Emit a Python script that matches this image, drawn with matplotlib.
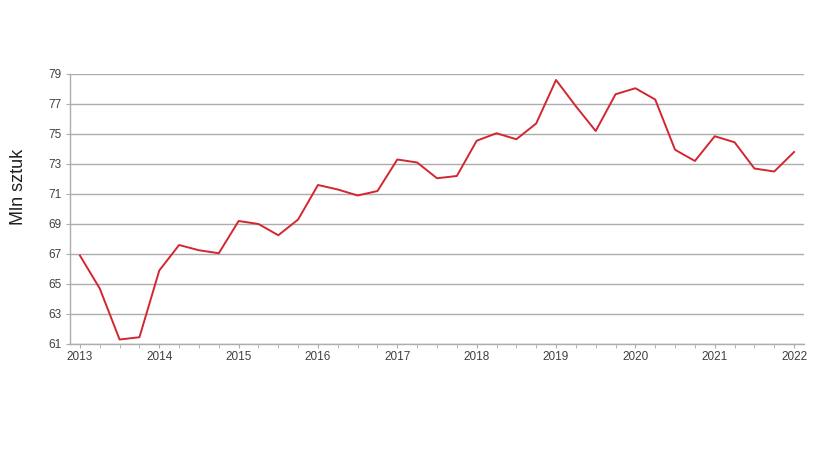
import matplotlib.pyplot as plt
from matplotlib.ticker import MultipleLocator

plt.rcParams['font.family'] = ['Liberation Sans', 'DejaVu Sans']

# kwartalne dane, 2013 Q1 - 2022 Q1
years = [2013, 2014, 2015, 2016, 2017, 2018, 2019, 2020, 2021, 2022]
values = [
    66.9, 64.7, 61.3, 61.45,
    65.9, 67.6, 67.25, 67.05,
    69.2, 69.0, 68.25, 69.3,
    71.6, 71.3, 70.9, 71.2,
    73.3, 73.1, 72.05, 72.2,
    74.55, 75.05, 74.65, 75.7,
    78.6, 76.85, 75.2, 77.65,
    78.05, 77.3, 73.95, 73.2,
    74.85, 74.45, 72.7, 72.5,
    73.8,
]
y_ticks = [61, 63, 65, 67, 69, 71, 73, 75, 77, 79]

grid_col = '#adadad'
txt_col = '#404040'

fig = plt.figure(figsize=(8.2, 4.62), dpi=100)
ax = fig.add_axes([70 / 820, 1 - 344 / 462, (804 - 70) / 820, (344 - 74) / 462])

x = list(range(len(values)))
ax.plot(x, values, color='#d22630', linewidth=1.4, zorder=3)

ax.set_xlim(-0.5, len(values) - 0.5)
ax.set_ylim(61, 79)
ax.set_yticks(y_ticks)
ax.set_xticks([4 * i for i in range(len(years))])
ax.set_xticklabels([str(y) for y in years])
ax.xaxis.set_minor_locator(MultipleLocator(1))

ax.grid(axis='y', color=grid_col, linewidth=1)
ax.set_axisbelow(True)
for side in ['top', 'right']:
    ax.spines[side].set_visible(False)
for side in ['left', 'bottom']:
    ax.spines[side].set_color(grid_col)
    ax.spines[side].set_linewidth(1)

ax.tick_params(axis='y', length=3, color=grid_col, labelsize=8.5, labelcolor=txt_col, pad=3)
ax.tick_params(axis='x', which='both', length=3, color=grid_col, labelsize=8.5,
               labelcolor=txt_col, pad=2)

# opis osi Y
fig.text(19 / 820, 1 - 187 / 462, 'Mln sztuk', rotation=90, fontsize=13,
         color='#202020', ha='center', va='center')

fig.savefig('out.png', dpi=100, facecolor='white')
